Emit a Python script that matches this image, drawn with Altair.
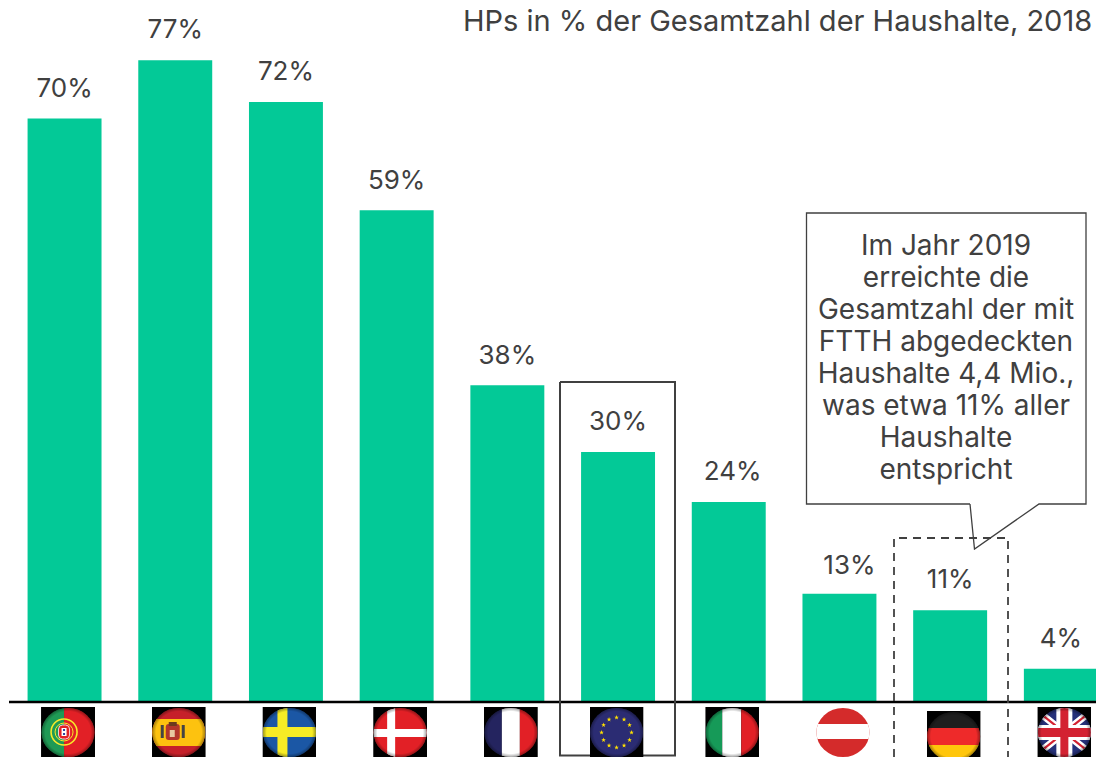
import base64, math
import altair as alt
import pandas as pd

countries = ["PT", "ES", "SE", "DK", "FR", "EU", "IT", "AT", "DE", "UK"]
values = [70, 77, 72, 59, 38, 30, 24, 13, 11, 4]
labels = ["70%", "77%", "72%", "59%", "38%", "30%", "24%", "13%", "11%", "4%"]
title_text = "HPs in % der Gesamtzahl der Haushalte, 2018"
callout_lines = ["Im Jahr 2019", "erreichte die", "Gesamtzahl der mit", "FTTH abgedeckten",
                 "Haushalte 4,4 Mio.,", "was etwa 11% aller", "Haushalte", "entspricht"]

FONT = "Inter"
INK = "#404040"
GREEN = "#03C997"
W, H = 54, 51


def star(cx, cy, r, fill):
    pts = []
    for i in range(10):
        a = -math.pi / 2 + i * math.pi / 5
        q = r if i % 2 == 0 else r * 0.42
        pts.append(f"{cx + q * math.cos(a):.2f},{cy + q * math.sin(a):.2f}")
    return f'<polygon points="{" ".join(pts)}" fill="{fill}"/>'


def r(x, y, w, h, c):
    return f'<rect x="{x}" y="{y}" width="{w}" height="{h}" fill="{c}"/>'


eu_stars = "".join(star(27 + 15 * math.cos(i * math.pi / 6), 25.5 + 15 * math.sin(i * math.pi / 6), 2.4, "#FFE000")
                   for i in range(12))
flag_art = {
    "PT": r(0, 0, 23, 51, "#1F9A55") + r(23, 0, 31, 51, "#E22026")
          + '<circle cx="23" cy="25" r="13" fill="none" stroke="#F7E92A" stroke-width="1.6"/>'
          + '<circle cx="23" cy="25" r="9" fill="none" stroke="#F7E92A" stroke-width="1"/>'
          + '<rect x="17.5" y="18" width="11" height="14" rx="4" fill="#E22026" stroke="#fff" stroke-width="0.8"/>'
          + r(20.5, 21, 5, 8, "#fff") + r(22, 22, 2, 2, "#2B3F9E") + r(22, 26, 2, 2, "#2B3F9E"),
    "ES": r(0, 0, 54, 51, "#C6202A") + r(0, 12, 54, 27, "#FDC20F")
          + r(9, 18, 3, 13, "#444") + r(30, 18, 3, 13, "#444")
          + '<rect x="14" y="17" width="14" height="16" rx="3" fill="#B3362B"/>'
          + r(17, 15, 8, 4, "#6B3A1E") + r(18, 23, 5, 7, "#E8C9A0"),
    "SE": r(0, 0, 54, 51, "#1B57A5") + r(15, 0, 10, 51, "#F7EC25") + r(0, 20, 54, 10, "#F7EC25"),
    "DK": r(0, 0, 54, 51, "#E22026") + r(14, 0, 8, 51, "#fff") + r(0, 22, 54, 8, "#fff"),
    "FR": r(0, 0, 18, 51, "#24245F") + r(18, 0, 18, 51, "#fff") + r(36, 0, 18, 51, "#E22026"),
    "EU": r(0, 0, 54, 51, "#2B2C73") + eu_stars,
    "IT": r(0, 0, 17, 51, "#169A58") + r(17, 0, 19, 51, "#fff") + r(36, 0, 18, 51, "#E22026"),
    "AT": r(0, 0, 54, 51, "#D42B2B") + r(0, 17, 54, 15, "#fff"),
    "DE": r(0, 0, 54, 51, "#1E1E1E") + r(0, 17, 54, 17, "#EE2A2A") + r(0, 34, 54, 17, "#FFC60B"),
    "UK": r(0, 0, 54, 51, "#26317A")
          + '<path d="M0 4L54 47M54 4L0 47" stroke="#fff" stroke-width="7"/>'
          + '<path d="M0 4L54 47M54 4L0 47" stroke="#D32232" stroke-width="2.2"/>'
          + r(0, 18, 54, 15, "#fff") + r(19, 0, 16, 51, "#fff")
          + r(0, 21, 54, 9, "#D32232") + r(23, 0, 8, 51, "#D32232"),
}


def flag_url(code):
    bg = "#fff" if code == "AT" else "#000"
    svg = (f'<svg xmlns="http://www.w3.org/2000/svg" width="{W}" height="{H}" viewBox="0 0 {W} {H}">'
           '<defs><clipPath id="c"><ellipse cx="27" cy="25.5" rx="26.5" ry="24.5"/></clipPath>'
           '<radialGradient id="g" cx="50%" cy="50%" r="50%"><stop offset="86%" stop-color="#000" stop-opacity="0"/>'
           '<stop offset="100%" stop-color="#000" stop-opacity="0.35"/></radialGradient></defs>'
           f'<rect width="{W}" height="{H}" fill="{bg}"/>'
           f'<g clip-path="url(#c)">{flag_art[code]}'
           + ('' if code == "AT" else '<ellipse cx="27" cy="25.5" rx="26.5" ry="24.5" fill="url(#g)"/>')
           + '</g></svg>')
    return "data:image/svg+xml;base64," + base64.b64encode(svg.encode()).decode()


df = pd.DataFrame({"country": countries, "value": values, "label": labels,
                   "flag": [flag_url(c) for c in countries]})

x_band = alt.X("country:N", sort=countries, axis=None,
               scale=alt.Scale(domain=countries, range=[1.2, 1108.2], paddingInner=0.332, paddingOuter=0.166))
y_val = alt.Y("value:Q", axis=None, scale=alt.Scale(domain=[0, 694 / 8.335], range=[694, 0]))

bars = alt.Chart(df).mark_bar(color=GREEN, cornerRadius=0).encode(x=x_band, y=y_val)


def label_layer(test, dx, dy):
    return alt.Chart(df).transform_filter(test).mark_text(
        font=FONT, fontSize=26, color=INK, baseline="middle", dx=dx, dy=dy).encode(
        x=x_band, y=y_val, text="label:N")


value_text = label_layer("indexof(['IT','AT','FR','DK'], datum.country) < 0", 0, -30)
label_it = label_layer("datum.country === 'IT'", 4, -30)
label_at = label_layer("datum.country === 'AT'", 10, -28)
label_fr = label_layer("datum.country === 'FR' || datum.country === 'DK'", 0, -29)


def flag_layer(test, dx, ypos):
    return alt.Chart(df).transform_filter(test).mark_image(
        width=W, height=H, xOffset=dx, align="center", baseline="middle").encode(
        x=x_band, y=alt.value(ypos), url="flag:N")


flags_main = flag_layer("datum.country !== 'DE' && datum.country !== 'EU'", 3.5, 724.5)
flags_eu = flag_layer("datum.country === 'EU'", -1.5, 724.5)
flags_de = flag_layer("datum.country === 'DE'", 3.5, 728.5)


def px(xs, ys):
    return pd.DataFrame({"px": [v - 8 for v in xs], "py": [v - 8 for v in ys], "i": range(len(xs))})


def path(xs, ys, **kw):
    return alt.Chart(px(xs, ys)).mark_line(interpolate="linear", **kw).encode(
        x=alt.X("px:Q", scale=None, axis=None), y=alt.Y("py:Q", scale=None, axis=None), order="i:Q")


baseline = path([9, 1104], [702, 702], color="#000000", strokeWidth=2.4)
eu_box = path([560, 675, 675, 560, 560], [382, 382, 755.5, 755.5, 382], color=INK, strokeWidth=2)
dashed = path([894, 894, 1008, 1008], [757, 538, 538, 757], color=INK, strokeWidth=1.8, strokeDash=[8, 6])

box_fill = alt.Chart(px([807], [213])).mark_rect(color="white").encode(
    x=alt.value(807 - 8), x2=alt.value(1086 - 8), y=alt.value(213 - 8), y2=alt.value(504 - 8))
tip_data = px([970, 974.5, 1039], [504, 549, 504])
tip_data["py2"] = 504 - 8
tip_fill = alt.Chart(tip_data).mark_area(color="white", interpolate="linear").encode(
    x=alt.X("px:Q", scale=None, axis=None), y=alt.Y("py:Q", scale=None, axis=None),
    y2="py2:Q", order="i:Q")
callout = path([970, 806.5, 806.5, 1086, 1086, 1039, 974.5, 970],
               [504, 504, 213, 213, 504, 504, 549, 504], color=INK, strokeWidth=1.3)

lines_df = pd.DataFrame({"t": callout_lines, "px": [946 - 8] * 8,
                         "py": [247 + 32 * i - 8 for i in range(8)]})
callout_text = alt.Chart(lines_df).mark_text(font=FONT, fontSize=28, color=INK, baseline="middle").encode(
    x=alt.X("px:Q", scale=None, axis=None), y=alt.Y("py:Q", scale=None, axis=None), text="t:N")

title = alt.Chart(pd.DataFrame({"t": [title_text], "px": [463 - 8], "py": [22 - 8]})).mark_text(
    font=FONT, fontSize=29, color=INK, align="left", baseline="middle").encode(
    x=alt.X("px:Q", scale=None, axis=None), y=alt.Y("py:Q", scale=None, axis=None), text="t:N")

chart = alt.layer(bars, value_text, label_it, label_at, label_fr, baseline, dashed, eu_box,
                  flags_main, flags_eu, flags_de,
                  box_fill, tip_fill, callout, callout_text, title).properties(
    width=1088, height=749, padding=0, autosize=alt.AutoSizeParams(type="none"),
    background="white").configure_view(stroke=None)

chart.save("out.html", embed_options={"renderer": "svg", "actions": False})
